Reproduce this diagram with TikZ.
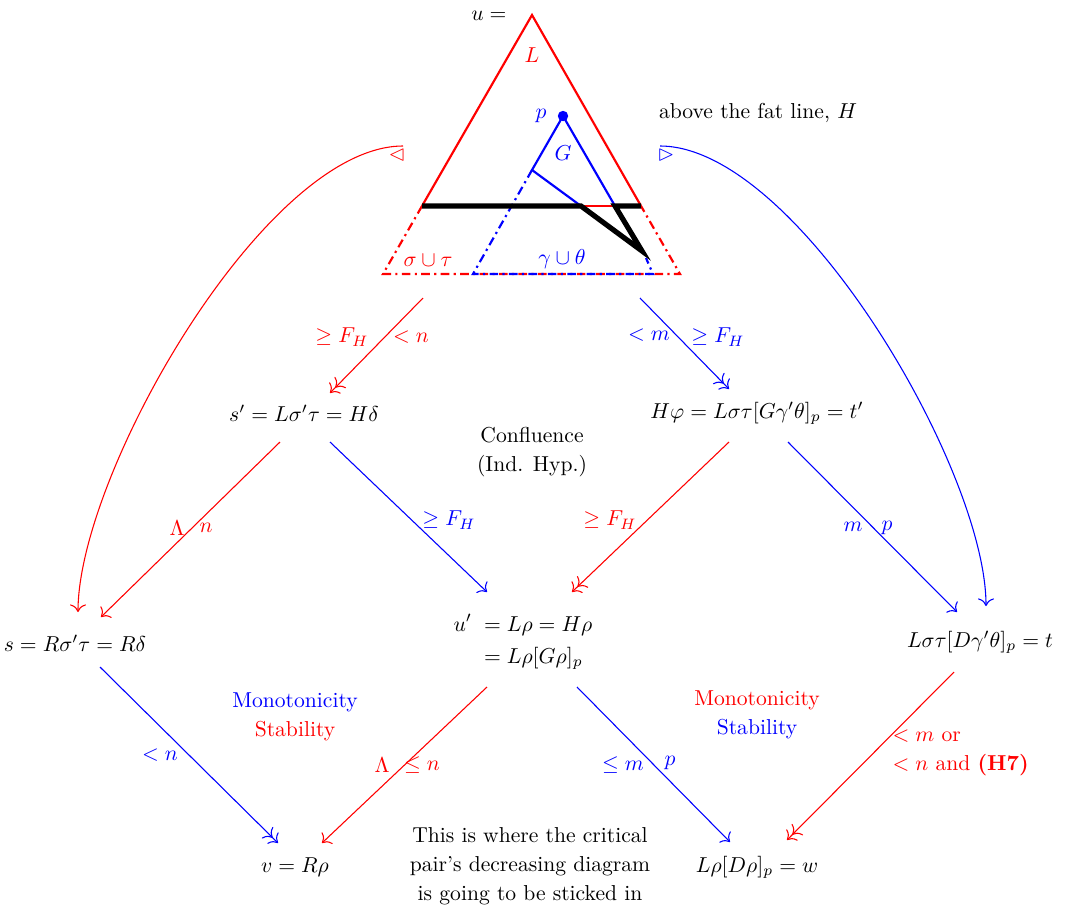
\documentclass[tikz,border=0pt]{standalone}
\usepackage{amsmath,amssymb}
\usetikzlibrary{arrows.meta}
\definecolor{rd}{RGB}{255,0,0}
\definecolor{bl}{RGB}{0,0,255}
\begin{document}
\begin{tikzpicture}[x=0.463pt,y=-0.463pt,
  >={To[scale=1.3]},
  lbl/.style={inner sep=1pt},
  ml/.style={align=center,font=\fontsize{10}{13.5}\selectfont,inner sep=1pt},
  rarr/.style={draw=rd,line width=0.5pt},
  barr/.style={draw=bl,line width=0.5pt},
  tri/.style={line width=1pt},
  dd/.style={line width=1pt,dash pattern=on 4pt off 2pt on 1pt off 2pt},
  fat/.style={line width=2.4pt,line join=miter}]
\useasboundingbox (0,0) rectangle (1067,913);
% ---- triangle figure ----
\coordinate (apex) at (532,15);
\coordinate (bl) at (422,206);
\coordinate (br) at (641,206);
\coordinate (ebl) at (383,274);
\coordinate (ebr) at (680,274);
\coordinate (pp) at (563,116);
\coordinate (gl) at (532,170);
\coordinate (gbl) at (473,274);
\coordinate (gbr) at (653,274);
\coordinate (k1) at (581,206);
\coordinate (k2) at (615,206);
\coordinate (kv) at (642,251);
\coordinate (kd) at (646,258);
\draw[rd,tri] (bl) -- (apex) -- (br);
\draw[rd,line width=0.8pt] (bl) -- (br);
\draw[rd,dd] (bl) -- (ebl) -- (ebr) -- (br);
\draw[bl,tri] (k2) -- (pp) -- (gl) -- (k1);
\draw[bl,dd] (gl) -- (gbl) -- (gbr) -- (kd);
\draw[black,fat] (bl) -- (k1) -- (kv) -- (k2) -- (br);
\fill[bl] (pp) circle (5.2);
\node[lbl,anchor=east] (ueq) at (509,16) {$u=$};
\node[lbl,text=rd] (Llab) at (532,55) {$L$};
\node[lbl,text=bl] (plab) at (541,116) {$p$};
\node[lbl,text=bl] (Glab) at (563,153) {$G$};
\node[lbl,text=rd] (sigtau) at (428,260) {$\sigma\cup\tau$};
\node[lbl,text=bl] (gamth) at (562,259) {$\gamma\cup\theta$};
\node[lbl] (above) at (758,113) {above the fat line, $H$};
\node[lbl,text=rd] (ltri) at (397,155) {$\vartriangleleft$};
\node[lbl,text=bl] (rtri) at (666,155) {$\vartriangleright$};
% ---- main nodes ----
\node[lbl] (sp) at (304,413) {$s' = L\sigma'\tau = H\delta$};
\node[lbl] (tp) at (757,413) {$H\varphi = L\sigma\tau[G\gamma'\theta]_p = t'$};
\node[ml] (conf) at (532,452) {Confluence\\(Ind. Hyp.)};
\node[lbl] (s) at (75,643) {$s = R\sigma'\tau = R\delta$};
\node[lbl] (up) at (523,642) {$\begin{aligned} u'\; &= L\rho = H\rho\\ &= L\rho[G\rho]_p\end{aligned}$};
\node[lbl] (t) at (980,642) {$L\sigma\tau[D\gamma'\theta]_p = t$};
\node[ml] (mono1) at (295,717) {\textcolor{bl}{Monotonicity}\\\textcolor{rd}{Stability}};
\node[ml] (mono2) at (757,715) {\textcolor{rd}{Monotonicity}\\\textcolor{bl}{Stability}};
\node[lbl] (v) at (295,867) {$v = R\rho$};
\node[ml] (crit) at (530,866) {This is where the critical\\pair's decreasing diagram\\is going to be sticked in};
\node[lbl] (w) at (757,867) {$L\rho[D\rho]_p = w$};
% ---- connector end points ----
\coordinate (c1s) at (423,298); \coordinate (c1e) at (330,393);
\coordinate (c2s) at (640,298); \coordinate (c2e) at (729,389);
\coordinate (c3s) at (280,442); \coordinate (c3e) at (101,617);
\coordinate (c4s) at (330,442); \coordinate (c4e) at (487,592);
\coordinate (c5s) at (729,442); \coordinate (c5e) at (572,592);
\coordinate (c6s) at (788,442); \coordinate (c6e) at (957,612);
\coordinate (c7s) at (100,667); \coordinate (c7e) at (278,843);
\coordinate (c8s) at (487,687); \coordinate (c8e) at (322,843);
\coordinate (c9s) at (577,687); \coordinate (c9e) at (730,842);
\coordinate (c10s) at (954,672); \coordinate (c10e) at (787,840);
\coordinate (aLs) at (403,146); \coordinate (aLe) at (78,612);
\coordinate (aRs) at (660,146); \coordinate (aRe) at (986,606);
% ---- connectors ----
\draw[rarr,->>] (c1s) -- (c1e);
\draw[barr,->>] (c2s) -- (c2e);
\draw[rarr,->] (c3s) -- (c3e);
\draw[barr,->] (c4s) -- (c4e);
\draw[rarr,->>] (c5s) -- (c5e);
\draw[barr,->] (c6s) -- (c6e);
\draw[barr,->>] (c7s) -- (c7e);
\draw[rarr,->] (c8s) -- (c8e);
\draw[barr,->] (c9s) -- (c9e);
\draw[rarr,->>] (c10s) -- (c10e);
\draw[rarr,->] (aLs) to[out=180,in=90,looseness=0.62] (aLe);
\draw[barr,->] (aRs) to[out=0,in=90,looseness=0.62] (aRe);
% ---- connector labels ----
\node[lbl,text=rd] (l1a) at (342,337) {$\geq F_H$};
\node[lbl,text=rd] (l1b) at (411,337) {$<n$};
\node[lbl,text=bl] (l2a) at (649,335) {$<m$};
\node[lbl,text=bl] (l2b) at (718,337) {$\geq F_H$};
\node[lbl,text=rd] (l3a) at (177,528) {$\Lambda$};
\node[lbl,text=rd] (l3b) at (206,528) {$n$};
\node[lbl,text=bl] (l4) at (449,520) {$\geq F_H$};
\node[lbl,text=rd] (l5) at (610,520) {$\geq F_H$};
\node[lbl,text=bl] (l6a) at (853,527) {$m$};
\node[lbl,text=bl] (l6b) at (887,528) {$p$};
\node[lbl,text=bl] (l7) at (160,755) {$<n$};
\node[lbl,text=rd] (l8a) at (382,765) {$\Lambda$};
\node[lbl,text=rd] (l8b) at (422,765) {$\leq n$};
\node[lbl,text=bl] (l9a) at (623,765) {$\leq m$};
\node[lbl,text=bl] (l9b) at (670,763) {$p$};
\node[ml,align=left,text=rd,anchor=west] (l10) at (890,753) {$<m$ or\\$<n$ and \textbf{(H7)}};
\end{tikzpicture}
\end{document}
